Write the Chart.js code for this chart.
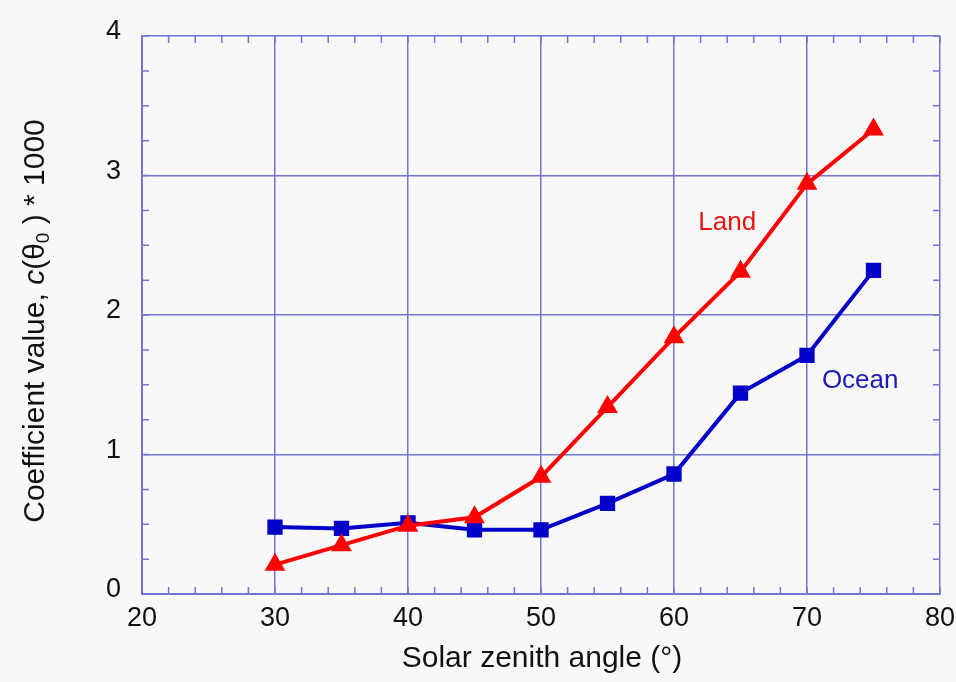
<!DOCTYPE html>
<html lang="en">
<head>
  <meta charset="UTF-8" />
  <title>Coefficient value vs solar zenith angle</title>
  <script src="https://cdn.jsdelivr.net/npm/chart.js"></script>
  <style>
    html, body {
      margin: 0;
      padding: 0;
      background: #f8f8f8;
    }
    .wrap {
      width: 956px;
      height: 682px;
    }
  </style>
</head>
<body>
<div class="wrap">
  <canvas id="chart" width="956" height="682"></canvas>
</div>

<script>
  // zenith angles (degrees)
  const angles = [30, 35, 40, 45, 50, 55, 60, 65, 70, 75];
  // coefficient c(theta0) * 1000
  const land  = [0.21, 0.35, 0.49, 0.55, 0.84, 1.34, 1.84, 2.31, 2.94, 3.33];
  const ocean = [0.48, 0.47, 0.51, 0.46, 0.46, 0.65, 0.86, 1.44, 1.71, 2.32];

  const xTicks = [20, 30, 40, 50, 60, 70, 80];
  const yTicks = [0, 1, 2, 3, 4];

  // series labels placed in data units
  const seriesLabels = ['Land', 'Ocean'];
  const labelX = [64.0, 74.0];
  const labelY = [2.66, 1.53];
  const labelColors = ['#ee1111', '#1a1ab8'];

  const gridColor = '#7474d4';
  const font = '"Liberation Sans", Arial, Helvetica, sans-serif';

  const toPoints = (xs, ys) => xs.map((x, i) => ({ x: x, y: ys[i] }));

  // inward minor ticks on all four sides
  const frameTicks = {
    id: 'frameTicks',
    beforeDatasetsDraw(chart) {
      const { ctx, chartArea: a, scales: { x, y } } = chart;
      const len = 7;
      ctx.save();
      ctx.strokeStyle = gridColor;
      ctx.lineWidth = 1.5;
      ctx.beginPath();
      for (let v = xTicks[0]; v <= xTicks[xTicks.length - 1]; v += 2) {
        const px = x.getPixelForValue(v);
        ctx.moveTo(px, a.bottom); ctx.lineTo(px, a.bottom - len);
        ctx.moveTo(px, a.top); ctx.lineTo(px, a.top + len);
      }
      for (let v = yTicks[0]; v <= yTicks[yTicks.length - 1] + 1e-9; v += 0.25) {
        const py = y.getPixelForValue(v);
        ctx.moveTo(a.left, py); ctx.lineTo(a.left + len, py);
        ctx.moveTo(a.right, py); ctx.lineTo(a.right - len, py);
      }
      ctx.stroke();
      ctx.restore();
    }
  };

  // axis titles and in-plot series labels
  const textLayer = {
    id: 'textLayer',
    afterDraw(chart) {
      const { ctx, scales: { x, y } } = chart;
      ctx.save();

      // x title
      ctx.fillStyle = '#111';
      ctx.font = '30px ' + font;
      ctx.textAlign = 'center';
      ctx.textBaseline = 'middle';
      ctx.fillText('Solar zenith angle (°)', 542, 659);

      // y title with italic c and subscript 0
      const parts = [
        { t: 'Coefficient value, ', f: '30px ' + font, dy: 0 },
        { t: 'c', f: 'italic 30px ' + font, dy: 0 },
        { t: '(θ', f: '30px ' + font, dy: 0 },
        { t: '0', f: '19px ' + font, dy: 8 },
        { t: ' ) * 1000', f: '30px ' + font, dy: 0 }
      ];
      let total = 0;
      parts.forEach(p => { ctx.font = p.f; p.w = ctx.measureText(p.t).width; total += p.w; });
      ctx.translate(36, 321);
      ctx.rotate(-Math.PI / 2);
      ctx.textAlign = 'left';
      ctx.textBaseline = 'middle';
      let cx = -total / 2;
      parts.forEach(p => {
        ctx.font = p.f;
        ctx.fillText(p.t, cx, p.dy);
        cx += p.w;
      });
      ctx.setTransform(1, 0, 0, 1, 0, 0);

      // Land / Ocean labels
      ctx.font = '26px ' + font;
      ctx.textAlign = 'center';
      ctx.textBaseline = 'middle';
      seriesLabels.forEach((s, i) => {
        ctx.fillStyle = labelColors[i];
        ctx.fillText(s, x.getPixelForValue(labelX[i]), y.getPixelForValue(labelY[i]));
      });
      ctx.restore();
    }
  };

  new Chart(document.getElementById('chart'), {
    type: 'line',
    data: {
      datasets: [
        {
          label: 'Land',
          data: toPoints(angles, land),
          borderColor: '#ff0000',
          backgroundColor: '#ff0000',
          borderWidth: 4,
          pointStyle: 'triangle',
          pointRadius: 8,
          pointHoverRadius: 8,
          tension: 0
        },
        {
          label: 'Ocean',
          data: toPoints(angles, ocean),
          borderColor: '#0000c8',
          backgroundColor: '#0000c8',
          borderWidth: 4,
          pointStyle: 'rect',
          pointRadius: 8,
          pointHoverRadius: 8,
          tension: 0
        }
      ]
    },
    options: {
      responsive: false,
      animation: false,
      layout: { padding: { left: 0, top: 36, right: 16, bottom: 0 } },
      plugins: {
        legend: { display: false },
        tooltip: { enabled: false }
      },
      scales: {
        x: {
          type: 'linear',
          min: xTicks[0],
          max: xTicks[xTicks.length - 1],
          afterBuildTicks: s => { s.ticks = xTicks.map(v => ({ value: v })); },
          afterFit: s => { s.height = 88; s.paddingLeft = 0; s.paddingRight = 0; },
          ticks: {
            color: '#111',
            font: { size: 27, family: font },
            padding: 8,
            maxRotation: 0
          },
          grid: { color: gridColor, lineWidth: 1.5, drawTicks: false },
          border: { color: gridColor, width: 2 }
        },
        y: {
          type: 'linear',
          min: yTicks[0],
          max: yTicks[yTicks.length - 1],
          afterBuildTicks: s => { s.ticks = yTicks.map(v => ({ value: v })); },
          afterFit: s => { s.width = 142; s.paddingTop = 0; s.paddingBottom = 0; },
          ticks: {
            color: '#111',
            font: { size: 27, family: font },
            padding: 21,
            labelOffset: -4
          },
          grid: { color: gridColor, lineWidth: 1.5, drawTicks: false },
          border: { color: gridColor, width: 2 }
        }
      }
    },
    plugins: [frameTicks, textLayer]
  });
</script>
</body>
</html>
